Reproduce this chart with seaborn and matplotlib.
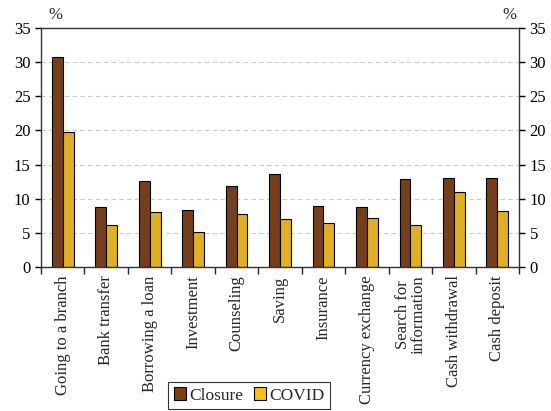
import matplotlib
matplotlib.use('Agg')
import matplotlib.pyplot as plt
import seaborn as sns
import pandas as pd
import numpy as np
from matplotlib.patches import Patch

categories = ['Going to a branch', 'Bank transfer', 'Borrowing a loan', 'Investment',
              'Counseling', 'Saving', 'Insurance', 'Currency exchange',
              'Search for\ninformation', 'Cash withdrawal', 'Cash deposit']
closure = [30.7, 8.8, 12.6, 8.3, 11.9, 13.6, 8.9, 8.8, 12.9, 13.0, 13.1]
covid = [19.8, 6.1, 8.0, 5.2, 7.8, 7.1, 6.4, 7.2, 6.2, 11.0, 8.2]
series = ['Closure', 'COVID']
colors = ['#843C0C', '#FFC000']

df = pd.DataFrame({
    'category': categories * 2,
    'value': closure + covid,
    'series': ['Closure'] * len(categories) + ['COVID'] * len(categories),
})

sns.set_style('white')
plt.rcParams['font.family'] = ['Liberation Serif', 'DejaVu Serif']
plt.rcParams['font.size'] = 12

fig = plt.figure(figsize=(5.51, 4.11), dpi=100)
ax = fig.add_axes([0.0744, 0.350, 0.8676, 0.582])

sns.barplot(data=df, x='category', y='value', hue='series', order=categories,
            hue_order=series, palette=colors, width=0.5, edgecolor='black',
            linewidth=0.8, legend=False, ax=ax)

ax.set_ylim(0, 35)
ax.set_xlim(-0.5, len(categories) - 0.5)
ax.set_yticks(np.arange(0, 36, 5))
ax.yaxis.grid(True, linestyle=(0, (4, 3)), color='#cccccc', linewidth=0.8)
ax.set_axisbelow(True)
ax.set_xlabel('')
ax.set_ylabel('')

for s in ax.spines.values():
    s.set_color('#333333')
    s.set_linewidth(1.0)

ax.tick_params(axis='y', which='both', direction='out', length=4, width=1,
               left=True, right=True, labelleft=True, labelright=True,
               labelsize=12, colors='black')
ax.set_xticks(range(len(categories)))
ax.set_xticklabels(categories, rotation=90, va='top', ha='center',
                   linespacing=0.95)
ax.tick_params(axis='x', which='major', length=0, labelsize=12, pad=6)
ax.set_xticks(np.arange(-0.5, len(categories), 1), minor=True)
ax.tick_params(axis='x', which='minor', length=5, width=1, direction='out',
               bottom=True)

fig.text(0.10, 0.945, '%', ha='center', va='bottom', fontsize=12)
fig.text(0.925, 0.945, '%', ha='center', va='bottom', fontsize=12)

handles = [Patch(facecolor=c, edgecolor='black', linewidth=0.8) for c in colors]
leg = fig.legend(handles, series, loc='upper center', bbox_to_anchor=(0.452, 0.070),
                 ncol=2, frameon=True, fancybox=False, edgecolor='black',
                 handlelength=0.7, handleheight=0.7, handletextpad=0.2,
                 columnspacing=0.6, borderpad=0.3, borderaxespad=0, fontsize=12.5)
leg.get_frame().set_linewidth(0.8)

fig.savefig('out.png', dpi=100)
